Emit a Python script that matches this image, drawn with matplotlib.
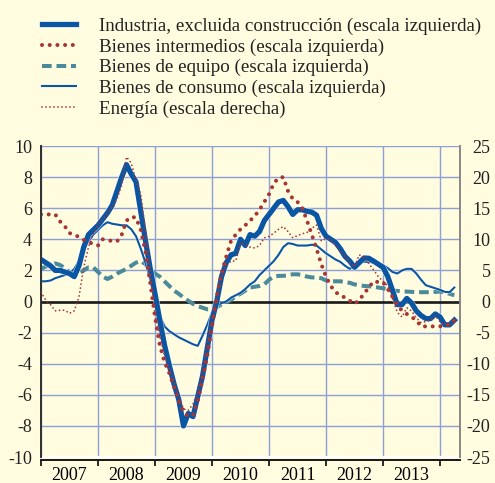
import matplotlib
matplotlib.use("Agg")
import matplotlib.pyplot as plt
import matplotlib.patheffects as pe
import numpy as np

# Monthly year-on-year rates, Jan 2007 - Apr 2014
years = ["2007", "2008", "2009", "2010", "2011", "2012", "2013"]

industria = [
    2.7, 2.5, 2.3, 2.0, 2.0, 1.9, 1.8, 1.6, 2.3, 3.5, 4.3, 4.6,
    4.9, 5.3, 5.7, 6.2, 7.1, 8.0, 8.8, 8.2, 7.7, 5.8, 3.9, 2.1,
    0.5, -1.2, -2.8, -4.1, -5.3, -6.3, -8.0, -7.2, -7.4, -6.1, -4.8, -3.0,
    -1.2, 0.0, 1.6, 2.5, 3.0, 3.1, 4.0, 3.6, 4.3, 4.2, 4.5, 5.2,
    5.6, 6.0, 6.4, 6.5, 6.1, 5.6, 5.9, 5.9, 5.8, 5.75, 5.55, 4.7,
    4.2, 4.0, 3.8, 3.4, 2.9, 2.6, 2.2, 2.5, 2.8, 2.78, 2.6, 2.4,
    2.2, 1.6, 0.7, -0.2, -0.2, 0.2, -0.1, -0.6, -0.9, -1.1, -1.1, -0.8,
    -1.0, -1.5, -1.5, -1.2,
]

intermedios = [
    5.6, 5.6, 5.6, 5.6, 5.15, 4.85, 4.4, 4.3, 4.15, 3.96, 3.82, 3.7,
    3.6, 4.0, 3.93, 3.9, 3.86, 4.3, 5.2, 5.44, 5.4, 4.6, 3.2, 1.2,
    -1.0, -2.8, -3.9, -4.6, -5.5, -6.4, -7.1, -7.4, -7.3, -6.4, -5.0, -3.5,
    -1.6, 0.3, 1.8, 2.9, 3.9, 4.3, 4.65, 4.9, 5.2, 5.5, 5.9, 6.4,
    6.9, 7.6, 7.95, 8.0, 7.1, 6.6, 6.4, 6.0, 5.2, 4.3, 3.4, 2.4,
    1.6, 1.0, 0.6, 0.4, 0.25, 0.05, -0.15, 0.1, 0.5, 0.9, 1.3, 1.25,
    1.25, 0.8, 0.3, -0.2, -0.6, -0.8, -1.0, -1.2, -1.6, -1.6, -1.6, -1.6,
    -1.6, -1.5, -1.5, -1.2,
]

equipo = [
    2.1, 2.25, 2.35, 2.45, 2.35, 2.15, 1.9, 1.8, 1.85, 2.0, 2.2, 2.2,
    1.9, 1.6, 1.45, 1.6, 1.8, 1.95, 2.1, 2.3, 2.5, 2.6, 2.4, 2.1,
    1.8, 1.6, 1.3, 1.0, 0.7, 0.5, 0.25, 0.05, -0.15, -0.3, -0.4, -0.5,
    -0.5, -0.35, -0.2, -0.05, 0.1, 0.35, 0.5, 0.7, 0.9, 0.95, 1.0, 1.1,
    1.4, 1.6, 1.65, 1.65, 1.7, 1.75, 1.75, 1.7, 1.6, 1.55, 1.55, 1.5,
    1.35, 1.3, 1.3, 1.3, 1.25, 1.2, 1.1, 1.05, 1.0, 0.98, 0.95, 0.9,
    0.85, 0.8, 0.7, 0.68, 0.65, 0.64, 0.62, 0.6, 0.6, 0.6, 0.6, 0.62,
    0.64, 0.58, 0.5, 0.4,
]

consumo = [
    1.3, 1.3, 1.35, 1.5, 1.6, 1.7, 1.8, 2.1, 2.6, 3.3, 3.9, 4.3,
    4.6, 4.9, 5.1, 5.0, 4.95, 4.9, 4.9, 4.65, 4.2, 3.4, 2.5, 1.4,
    0.0, -0.9, -1.6, -1.9, -2.1, -2.3, -2.45, -2.6, -2.75, -2.85, -2.2, -1.5,
    -0.7, -0.3, -0.1, 0.0, 0.25, 0.4, 0.55, 0.8, 1.1, 1.3, 1.7, 2.0,
    2.3, 2.6, 3.0, 3.5, 3.75, 3.7, 3.6, 3.6, 3.6, 3.65, 3.6, 3.35,
    3.1, 2.9, 2.7, 2.55, 2.3, 2.1, 2.3, 2.6, 2.55, 2.55, 2.5, 2.45,
    2.35, 2.15, 1.9, 1.8, 2.0, 2.1, 2.1, 1.8, 1.4, 1.05, 0.95, 0.85,
    0.75, 0.62, 0.6, 0.9,
]

# energy is read against the right-hand scale
energia = [
    1.5, 0.25, -0.5, -1.5, -1.4, -1.4, -1.9, -1.5, 0.75, 5.5, 8.75, 11.0,
    12.25, 13.25, 14.1, 15.25, 16.5, 18.75, 23.25, 22.25, 19.5, 17.25, 11.25, 4.5,
    -2.0, -5.5, -8.75, -10.75, -13.0, -15.25, -17.25, -17.5, -16.5, -14.5, -11.25, -6.75,
    -3.0, 0.5, 4.0, 5.75, 6.5, 6.5, 9.5, 9.1, 8.75, 8.6, 9.0, 10.25,
    10.45, 11.0, 11.6, 12.05, 11.25, 10.25, 10.6, 10.9, 11.1, 11.75, 12.3, 9.75,
    10.1, 9.9, 9.0, 8.0, 7.25, 6.25, 5.6, 7.5, 7.1, 6.1, 5.1, 4.0,
    3.25, 2.5, 0.5, -1.75, -2.5, -1.0, -1.5, -2.6, -3.4, -3.25, -3.0, -2.25,
    -3.25, -3.75, -3.75, -3.25,
]

months = np.arange(len(industria))

BG = "#fffcdf"
BLUE = "#0b56a3"
RED = "#a83434"
TEAL = "#4a8a9b"
GRID = "#8e9fd8"

plt.rcParams["font.family"] = "serif"
plt.rcParams["font.serif"] = ["Liberation Serif", "Times New Roman", "DejaVu Serif"]
plt.rcParams["font.size"] = 13
plt.rcParams["axes.unicode_minus"] = False

fig = plt.figure(figsize=(4.95, 4.83), dpi=100, facecolor=BG)
ax = fig.add_axes([0.0828, 0.0538, 0.8465, 0.6439])
ax.set_facecolor(BG)
ax2 = ax.twinx()

halo = [pe.Stroke(linewidth=4.8, foreground="white", alpha=0.6), pe.Normal()]
halo_thin = [pe.Stroke(linewidth=2.4, foreground="white", alpha=0.6), pe.Normal()]

l1, = ax.plot(months, industria, color=BLUE, lw=3.8, solid_joinstyle="round",
              path_effects=halo, zorder=5)
l2, = ax.plot(months, intermedios, color=RED, lw=2.9, linestyle=(0, (0.01, 1.9)),
              dash_capstyle="round", zorder=6)
l3, = ax.plot(months, equipo, color=TEAL, lw=2.9, linestyle=(0, (2.4, 1.2)),
              zorder=4)
l4, = ax.plot(months, consumo, color=BLUE, lw=1.5, path_effects=halo_thin, zorder=4)
l5, = ax2.plot(months, energia, color=RED, lw=1.3, linestyle=(0, (0.01, 2.2)),
               dash_capstyle="round", zorder=6)

ax.axhline(0, color="#1a1a1a", lw=1.9, zorder=3)

# axes limits and ticks
ax.set_xlim(0, 88.2)
ax.set_ylim(-10, 10)
ax2.set_ylim(-25, 25)
ax.set_yticks(np.arange(-10, 11, 2))
ax2.set_yticks(np.arange(-25, 26, 5))

ax.set_xticks(np.arange(0, 85, 12))
ax.set_xticklabels([])
ax.set_xticks(np.arange(6, 84, 12), minor=True)
ax.set_xticklabels(years, minor=True)
ax.tick_params(axis="x", which="major", direction="out", length=4, width=1.3,
               color="#1a1a1a")
ax.tick_params(axis="x", which="minor", length=0, pad=5, labelsize=13)
ax.tick_params(axis="y", length=0, pad=6.5, labelsize=13, labelcolor="#222222")
ax2.tick_params(axis="y", length=0, pad=22, labelsize=13, labelcolor="#222222")
for lbl in ax2.get_yticklabels():
    lbl.set_horizontalalignment("right")

ax.grid(True, axis="y", color=GRID, lw=1.0)
ax.grid(True, axis="x", which="major", color=GRID, lw=1.0)
ax.set_axisbelow(True)

for a in (ax, ax2):
    a.spines["top"].set_visible(False)
    a.spines["left"].set_color("#333333")
    a.spines["left"].set_linewidth(1.3)
    a.spines["right"].set_color("#8a8a8a")
    a.spines["right"].set_linewidth(1.3)
    a.spines["bottom"].set_color("#1a1a1a")
    a.spines["bottom"].set_linewidth(1.3)
    a.spines["bottom"].set_position(("outward", 2))
ax.axhline(-10, color="white", lw=1.6, zorder=2, clip_on=False)

labels = [
    "Industria, excluida construcción (escala izquierda)",
    "Bienes intermedios (escala izquierda)",
    "Bienes de equipo (escala izquierda)",
    "Bienes de consumo (escala izquierda)",
    "Energía (escala derecha)",
]
fig.legend([l1, l2, l3, l4, l5], labels, loc="upper left",
           bbox_to_anchor=(0.078, 0.972), frameon=False, fontsize=13.7,
           handlelength=1.75, handletextpad=1.2, labelspacing=0.18,
           borderpad=0.2, borderaxespad=0, labelcolor="#222222")

fig.savefig("out.png", dpi=100, facecolor=BG)
